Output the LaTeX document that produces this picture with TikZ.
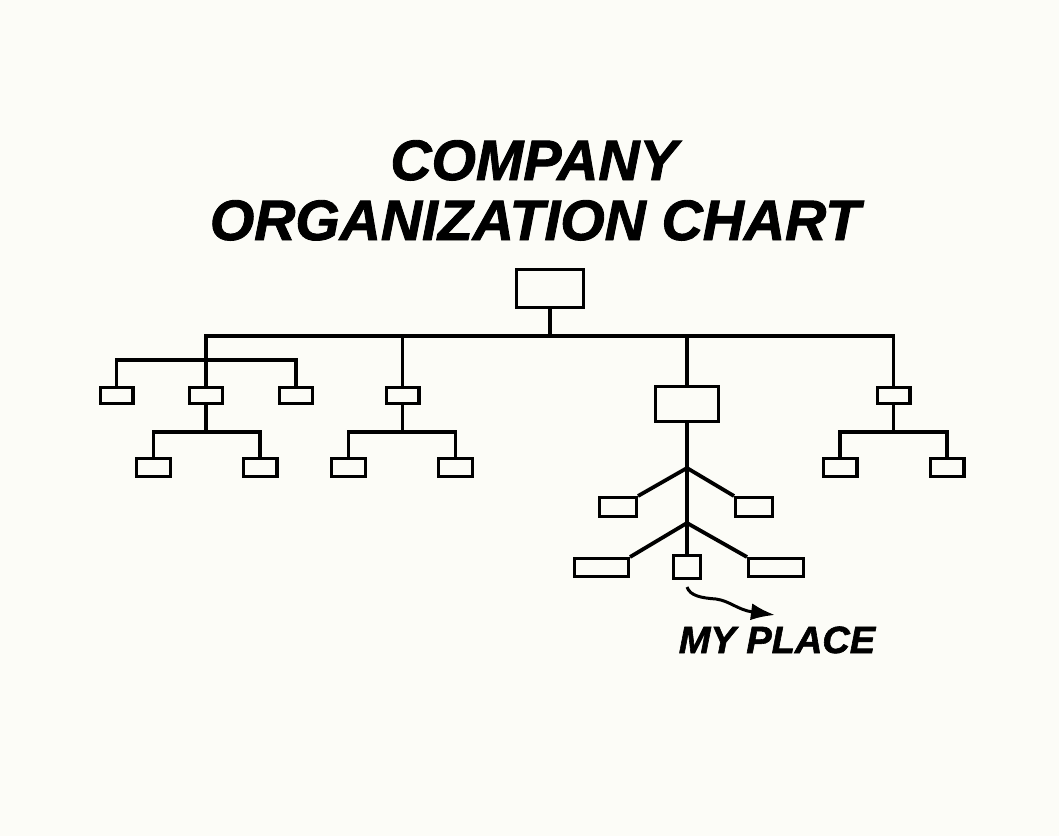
\documentclass[tikz,border=0pt]{standalone}
\usepackage{fontspec}
\usetikzlibrary{arrows.meta}
\newfontfamily\comicfont{Liberation Sans}[BoldItalicFeatures={FakeBold=1.6}]
\definecolor{paper}{RGB}{252,252,247}
\begin{document}
\begin{tikzpicture}[
        x=1pt, y=-1pt,
        org_box/.style={draw, line width=3.2pt, inner sep=0pt, fill=paper},
        row_one/.style={org_box, minimum width=32.8pt, minimum height=15.8pt},
        row_two/.style={org_box, minimum width=33.8pt, minimum height=17.8pt},
        link/.style={line width=3.8pt},
        squiggle/.style={line width=3pt, -{Latex[length=24pt, width=17pt]}},
        title_text/.style={font=\comicfont\bfseries\itshape\fontsize{57}{60}\selectfont, inner sep=0pt, anchor=base},
        tag_text/.style={font=\comicfont\bfseries\itshape\fontsize{38}{40}\selectfont, inner sep=0pt, anchor=base}
    ]
        % Paper
        \fill[paper] (0,0) rectangle (1059,836);

        % Title
        \node[title_text] (title1) at (534,180) {COMPANY};
        \node[title_text] (title2) at (535,240) {ORGANIZATION CHART};

        % Boxes
        \node[org_box, minimum width=66.8pt, minimum height=37.8pt] (ceo) at (550,288.5) {};
        \node[row_one] (A1) at (116.5,395.5) {};
        \node[row_one] (A) at (206,395.5) {};
        \node[row_one] (A3) at (296,395.5) {};
        \node[row_one] (B) at (402.5,395.5) {};
        \node[row_one] (D) at (893.5,395.5) {};
        \node[row_two] (Aa) at (153.5,467.5) {};
        \node[row_two] (Ab) at (260,467.5) {};
        \node[row_two] (Ba) at (348.5,467.5) {};
        \node[row_two] (Bb) at (455.5,467.5) {};
        \node[row_two] (Da) at (840,467.5) {};
        \node[row_two] (Db) at (947,467.5) {};
        \node[org_box, minimum width=62.8pt, minimum height=34.8pt] (C) at (687,404) {};
        \node[org_box, minimum width=36.8pt, minimum height=18.8pt] (Cl) at (618,507) {};
        \node[org_box, minimum width=36.8pt, minimum height=18.8pt] (Cr) at (754,507) {};
        \node[org_box, minimum width=53.8pt, minimum height=17.8pt] (Cl2) at (601.5,567.5) {};
        \node[org_box, minimum width=54.8pt, minimum height=17.8pt] (Cr2) at (776,567.5) {};
        \node[org_box, minimum width=26.8pt, minimum height=22.8pt] (Cm) at (687,567) {};

        % Junctions
        \coordinate (hub) at (550,336);
        \coordinate (Abar) at (206,360);
        \coordinate (Aj) at (206,432);
        \coordinate (Bj) at (402.5,432);
        \coordinate (Dj) at (893.5,432);
        \coordinate (Cj1) at (687,468);
        \coordinate (Cj2) at (687,523);
        \coordinate (mark) at (775,615);

        % Top level
        \draw[link] (ceo.south) -- (hub) -| (A.north);
        \draw[link] (hub) -| (D.north);
        \draw[link] (hub) -| (B.north);
        \draw[link] (hub) -| (C.north);

        % Left group
        \draw[link] (Abar) -| (A1.north);
        \draw[link] (Abar) -| (A3.north);
        \draw[link] (A.south) -- (Aj) -| (Aa.north);
        \draw[link] (Aj) -| (Ab.north);
        \draw[link] (B.south) -- (Bj) -| (Ba.north);
        \draw[link] (Bj) -| (Bb.north);
        \draw[link] (D.south) -- (Dj) -| (Da.north);
        \draw[link] (Dj) -| (Db.north);

        % Middle group
        \draw[link] (C.south) -- (Cj1) -- (Cj2) -- (Cm.north);
        \draw[link] (Cl.north east) -- (Cj1) -- (Cr.north west);
        \draw[link] (Cl2.north east) -- (Cj2) -- (Cr2.north west);

        % My place
        \draw[squiggle] ([yshift=-7pt]Cm.south) .. controls (690,596) and (702,598) .. (716,599) .. controls (730,601) and (738,610) .. (mark);
        \node[tag_text] (myplace) at (777,653) {MY PLACE};
    \end{tikzpicture}
\end{document}
